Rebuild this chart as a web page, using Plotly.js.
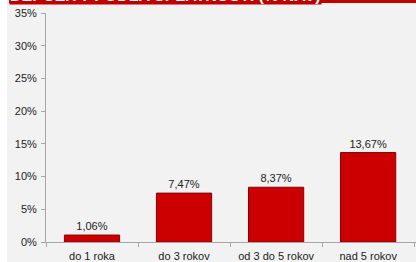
<!DOCTYPE html>
<html>
<head>
<meta charset="utf-8">
<script src="https://cdn.plot.ly/plotly-3.0.1.min.js"></script>
<style>html,body{margin:0;padding:0;background:#fff;}#chart{width:416px;height:262px;}</style>
</head>
<body>
<div id="chart"></div>
<script>
var categories = ["do 1 roka", "do 3 rokov", "od 3 do 5 rokov", "nad 5 rokov"];
var values = [1.06, 7.47, 8.37, 13.67];
var tickValues = [0, 5, 10, 15, 20, 25, 30, 35];
var tickLabels = ["0%", "5%", "10%", "15%", "20%", "25%", "30%", "35%"];
var titleText = "DEPOZITY PODĽA SPLATNOSTI (% NAV)";

var trace = {
  type: "bar",
  x: categories,
  y: values,
  width: 0.6,
  marker: {color: "#cc0000", line: {color: "#8a0000", width: 1}},
  texttemplate: "%{y:.2f}%",
  textposition: "outside",
  cliponaxis: false,
  textfont: {family: "Liberation Sans, Arial, sans-serif", size: 11, color: "#222"},
  hoverinfo: "none"
};

var layout = {
  width: 416, height: 262,
  margin: {l: 46, r: 0, t: 13, b: 20, pad: 0},
  paper_bgcolor: "#ffffff",
  plot_bgcolor: "rgba(0,0,0,0)",
  separators: ",.",
  font: {family: "Liberation Sans, Arial, sans-serif", size: 11, color: "#222"},
  showlegend: false,
  xaxis: {
    type: "category",
    range: [-0.5, 3.52],
    showline: true, linecolor: "#a6a6a6", linewidth: 1,
    ticks: "outside", ticklen: 4, tickcolor: "#a6a6a6",
    tickson: "boundaries",
    ticklabelstandoff: 4,
    showgrid: false, zeroline: false,
    tickfont: {size: 11, color: "#222"}
  },
  yaxis: {
    range: [0, 35],
    tickmode: "array",
    tickvals: tickValues,
    ticktext: tickLabels,
    showline: true, linecolor: "#a6a6a6", linewidth: 1,
    ticks: "outside", ticklen: 4, tickcolor: "#a6a6a6",
    ticklabelstandoff: 2,
    showgrid: false, zeroline: false,
    tickfont: {size: 11, color: "#222"}
  },
  shapes: [
    {type: "rect", xref: "paper", yref: "paper", layer: "below",
     x0: -0.1054, x1: 1.02, y0: -0.2, y1: 1.06,
     fillcolor: "#f2f2f2", line: {width: 0}},
    {type: "rect", xref: "paper", yref: "paper", layer: "below",
     x0: -0.1, x1: 1.02, y0: 1.044, y1: 1.1,
     fillcolor: "#c00000", line: {width: 0}}
  ],
  annotations: [
    {xref: "paper", yref: "paper", x: -0.1, y: 1.033, xanchor: "left", yanchor: "bottom",
     text: "<b>" + titleText + "</b>", showarrow: false,
     bgcolor: "#c00000", borderpad: 0,
     font: {family: "Liberation Sans, Arial, sans-serif", size: 16, color: "#ffffff"}}
  ]
};

Plotly.newPlot("chart", [trace], layout, {displayModeBar: false, staticPlot: true});
</script>
</body>
</html>
